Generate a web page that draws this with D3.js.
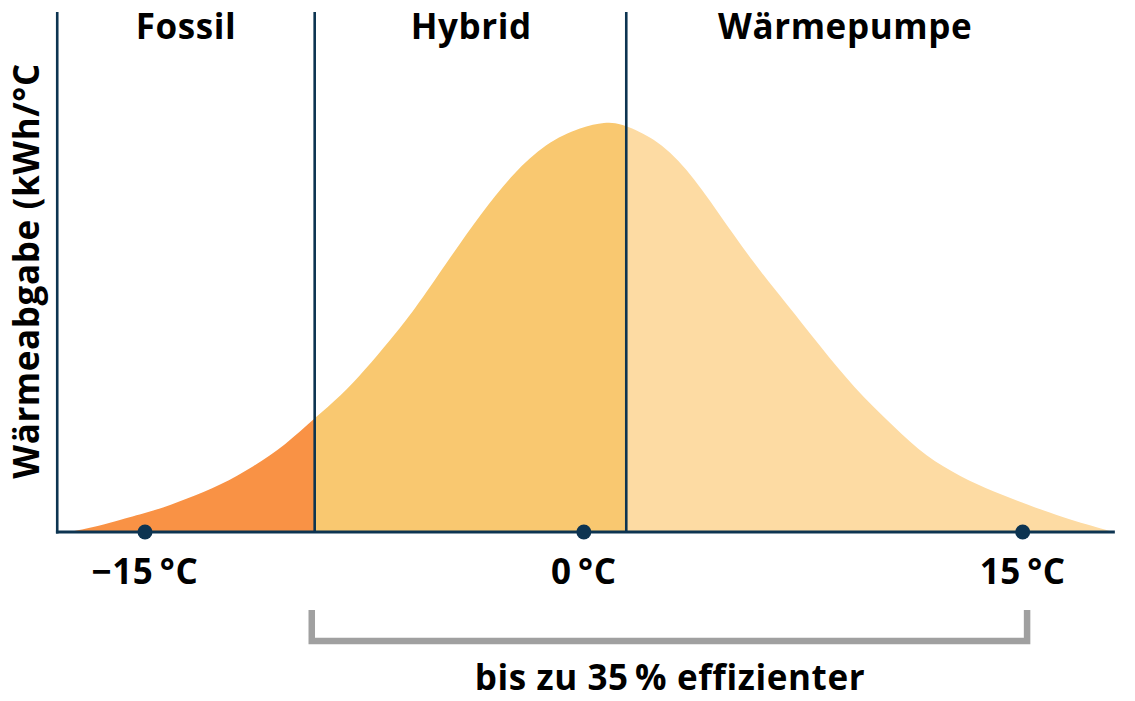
<!DOCTYPE html>
<html>
<head>
<meta charset="utf-8">
<script src="https://cdn.jsdelivr.net/npm/d3@7"></script>
<style>
  html, body { margin: 0; padding: 0; background: #fff; }
  svg { display: block; }
  text { font-family: "Open Sans", "Lato", sans-serif; font-weight: 700; fill: #000; letter-spacing: 0.6px; }
</style>
</head>
<body>
<svg id="chart" width="1135" height="701"></svg>
<script>
// ---- data ----
const temps = [-17.6, -16.5, -15.9, -14.7, -13.6, -12.4, -11.3, -10.2, -9.2, -8.3, -7.5, -6.6, -5.8, -4.7, -3.5, -2.4, -1.3, -0.1, 0.75, 1.2, 2.4, 3.5, 4.6, 5.8, 6.9, 8.1, 9.2, 10.6, 11.7, 12.9, 14.0, 15.2, 16.3, 18.1];
const heat  = [0, 1.6, 2.9, 5.1, 8.0, 11.5, 15.9, 21.2, 27.8, 33.2, 39.4, 47.0, 54.1, 65.6, 77.9, 87.6, 94.9, 98.8, 100, 99.8, 96.3, 89.0, 77.8, 65.6, 55.9, 45.1, 35.4, 25.6, 18.3, 13.4, 9.8, 6.6, 3.7, 0];
const regionNames = ["Fossil", "Hybrid", "Wärmepumpe"];
const regionBounds = [[-18, -9.2], [-9.2, 1.45], [1.45, 18.2]];
const regionLabelX = [-13.6, -3.85, 8.93];
const tickValues = [-15, 0, 15];
const tickLabels = ["\u221215\u2009°C", "0\u2009°C", "15\u2009°C"];
const yLabel = "Wärmeabgabe (kWh/°C";
const bracketRange = [-9.3, 15.15];
const bracketLabel = "bis zu 35\u2009% effizienter";

// ---- setup ----
const svg = d3.select("#chart");
const x = d3.scaleLinear().domain([-15, 15]).range([145, 1022.7]);
const y = d3.scaleLinear().domain([0, 100]).range([532, 122]);
const colors = ["#F99245", "#F9C870", "#FDDBA3"];
const navy = "#0D3451";
const axisTop = 12;
const xMin = -18, xMax = 18.15;
const fs = 35;

const pts = temps.map((t, i) => [t, heat[i]]);
const area = d3.area().x(d => x(d[0])).y0(y(0)).y1(d => y(d[1])).curve(d3.curveBasis);

const defs = svg.append("defs");
regionBounds.forEach((b, i) => {
  defs.append("clipPath").attr("id", "clip" + i)
    .append("rect")
    .attr("x", x(b[0])).attr("y", 0)
    .attr("width", x(b[1]) - x(b[0])).attr("height", y(0));
  svg.append("path").datum(pts)
    .attr("d", area)
    .attr("fill", colors[i])
    .attr("clip-path", "url(#clip" + i + ")");
});

// axes
svg.append("line").attr("x1", x(xMin)).attr("x2", x(xMin)).attr("y1", axisTop).attr("y2", y(0) + 1.5)
  .attr("stroke", navy).attr("stroke-width", 2.6);
svg.append("line").attr("x1", x(xMin) - 1.3).attr("x2", x(xMax)).attr("y1", y(0)).attr("y2", y(0))
  .attr("stroke", navy).attr("stroke-width", 3);

// dividers
[regionBounds[0][1], regionBounds[1][1]].forEach(v => {
  svg.append("line").attr("x1", x(v)).attr("x2", x(v)).attr("y1", axisTop).attr("y2", y(0))
    .attr("stroke", navy).attr("stroke-width", 2.6);
});

// region labels
svg.selectAll("text.region").data(regionNames).join("text")
  .attr("class", "region")
  .attr("x", (d, i) => x(regionLabelX[i]))
  .attr("y", 39)
  .attr("text-anchor", "middle")
  .attr("font-size", fs)
  .text(d => d);

// tick dots and labels
svg.selectAll("circle.tick").data(tickValues).join("circle")
  .attr("cx", d => x(d)).attr("cy", y(0)).attr("r", 7.5).attr("fill", navy);
svg.selectAll("text.tick").data(tickValues).join("text")
  .attr("x", d => x(d)).attr("y", 584)
  .attr("text-anchor", "middle").attr("font-size", fs)
  .text((d, i) => tickLabels[i]);

// y label
svg.append("text")
  .attr("transform", "translate(39,271) rotate(-90)")
  .attr("text-anchor", "middle").attr("font-size", fs)
  .text(yLabel);

// bracket
const bx0 = x(bracketRange[0]), bx1 = x(bracketRange[1]);
svg.append("path")
  .attr("d", `M${bx0},610 V641 H${bx1} V610`)
  .attr("fill", "none").attr("stroke", "#A0A0A0").attr("stroke-width", 6.5);
svg.append("text")
  .attr("x", 670).attr("y", 690)
  .attr("text-anchor", "middle").attr("font-size", fs)
  .text(bracketLabel);
</script>
</body>
</html>
